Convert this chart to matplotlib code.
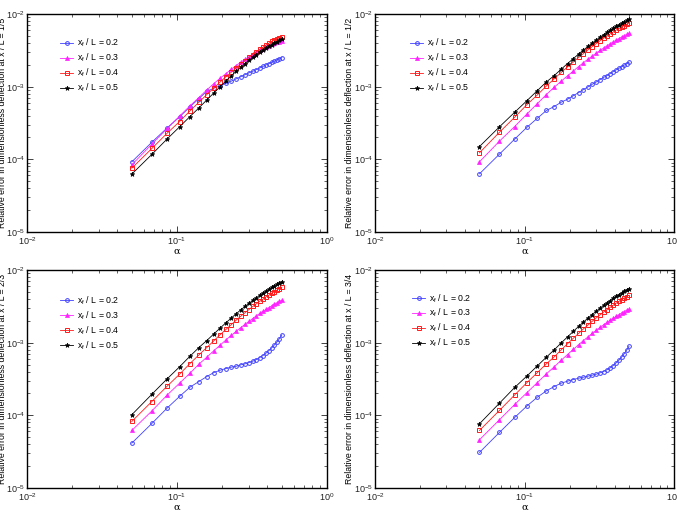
import matplotlib
matplotlib.use("Agg")
import matplotlib.pyplot as plt

plt.rcParams['font.family'] = ['Liberation Sans', 'DejaVu Sans']
plt.rcParams['mathtext.fontset'] = 'custom'
plt.rcParams['mathtext.rm'] = 'Liberation Sans'
plt.rcParams['mathtext.it'] = 'Liberation Sans:italic'
plt.rcParams['axes.unicode_minus'] = False

alpha = [0.05, 0.068, 0.086, 0.104, 0.122, 0.14, 0.158, 0.176, 0.194, 0.212,
         0.23, 0.248, 0.266, 0.284, 0.302, 0.32, 0.338, 0.356, 0.374, 0.392,
         0.41, 0.428, 0.446, 0.464, 0.482, 0.5]

series_labels = ['0.2', '0.3', '0.4', '0.5']
panel_labels = ['1/5', '1/2', '2/3', '3/4']

# Panel x/L = 1/5
p1_02 = [9.25e-5, 1.72e-4, 2.71e-4, 3.84e-4, 5.27e-4, 6.87e-4, 8.65e-4, 9.5e-4, 1.03e-3, 1.11e-3,
         1.19e-3, 1.28e-3, 1.37e-3, 1.46e-3, 1.55e-3, 1.63e-3, 1.72e-3, 1.81e-3, 1.90e-3, 1.99e-3,
         2.07e-3, 2.16e-3, 2.25e-3, 2.34e-3, 2.42e-3, 2.51e-3]
p1_03 = [8.4e-5, 1.62e-4, 2.66e-4, 3.93e-4, 5.45e-4, 7.08e-4, 9.03e-4, 1.10e-3, 1.31e-3, 1.51e-3,
         1.74e-3, 1.95e-3, 2.17e-3, 2.38e-3, 2.59e-3, 2.79e-3, 2.97e-3, 3.17e-3, 3.34e-3, 3.52e-3,
         3.67e-3, 3.83e-3, 3.95e-3, 4.08e-3, 4.17e-3, 4.26e-3]
p1_04 = [7.57e-5, 1.41e-4, 2.29e-4, 3.31e-4, 4.64e-4, 6.11e-4, 7.78e-4, 9.6e-4, 1.16e-3, 1.37e-3,
         1.58e-3, 1.81e-3, 2.05e-3, 2.29e-3, 2.52e-3, 2.77e-3, 3.01e-3, 3.26e-3, 3.50e-3, 3.74e-3,
         3.97e-3, 4.2e-3, 4.4e-3, 4.55e-3, 4.7e-3, 4.85e-3]
p1_05 = [6.27e-5, 1.17e-4, 1.91e-4, 2.80e-4, 3.88e-4, 5.1e-4, 6.57e-4, 8.2e-4, 1.0e-3, 1.2e-3,
         1.41e-3, 1.63e-3, 1.85e-3, 2.08e-3, 2.31e-3, 2.54e-3, 2.76e-3, 2.97e-3, 3.20e-3, 3.41e-3,
         3.6e-3, 3.79e-3, 3.99e-3, 4.17e-3, 4.35e-3, 4.49e-3]

# Panel x/L = 1/2
p2_02 = [6.32e-5, 1.18e-4, 1.90e-4, 2.77e-4, 3.68e-4, 4.70e-4, 5.33e-4, 6.11e-4, 6.72e-4, 7.50e-4,
         8.30e-4, 9.12e-4, 9.93e-4, 1.08e-3, 1.16e-3, 1.25e-3, 1.34e-3, 1.42e-3, 1.51e-3, 1.61e-3,
         1.70e-3, 1.79e-3, 1.88e-3, 1.98e-3, 2.07e-3, 2.17e-3]
p2_03 = [9.25e-5, 1.78e-4, 2.83e-4, 4.23e-4, 5.86e-4, 7.79e-4, 9.82e-4, 1.19e-3, 1.41e-3, 1.64e-3,
         1.89e-3, 2.14e-3, 2.39e-3, 2.64e-3, 2.89e-3, 3.15e-3, 3.40e-3, 3.64e-3, 3.89e-3, 4.13e-3,
         4.36e-3, 4.59e-3, 4.81e-3, 5.02e-3, 5.23e-3, 5.43e-3]
p2_04 = [1.23e-4, 2.36e-4, 3.80e-4, 5.68e-4, 7.71e-4, 1.02e-3, 1.28e-3, 1.57e-3, 1.87e-3, 2.18e-3,
         2.52e-3, 2.86e-3, 3.21e-3, 3.56e-3, 3.92e-3, 4.28e-3, 4.63e-3, 4.98e-3, 5.32e-3, 5.66e-3,
         6.00e-3, 6.32e-3, 6.64e-3, 6.94e-3, 7.25e-3, 7.52e-3]
p2_05 = [1.50e-4, 2.80e-4, 4.45e-4, 6.44e-4, 8.84e-4, 1.16e-3, 1.42e-3, 1.74e-3, 2.08e-3, 2.43e-3,
         2.81e-3, 3.19e-3, 3.58e-3, 3.98e-3, 4.38e-3, 4.79e-3, 5.19e-3, 5.58e-3, 5.97e-3, 6.35e-3,
         6.73e-3, 7.09e-3, 7.46e-3, 7.80e-3, 8.14e-3, 8.45e-3]

# Panel x/L = 2/3
p3_02 = [4.15e-5, 7.73e-5, 1.26e-4, 1.82e-4, 2.44e-4, 2.92e-4, 3.42e-4, 3.88e-4, 4.18e-4, 4.41e-4,
         4.60e-4, 4.74e-4, 4.95e-4, 5.11e-4, 5.33e-4, 5.56e-4, 5.86e-4, 6.24e-4, 6.65e-4, 7.16e-4,
         7.79e-4, 8.48e-4, 9.32e-4, 1.02e-3, 1.14e-3, 1.28e-3]
p3_03 = [6.19e-5, 1.15e-4, 1.90e-4, 2.77e-4, 3.80e-4, 5.06e-4, 6.31e-4, 7.75e-4, 9.26e-4, 1.09e-3,
         1.26e-3, 1.43e-3, 1.61e-3, 1.79e-3, 1.97e-3, 2.15e-3, 2.34e-3, 2.52e-3, 2.70e-3, 2.87e-3,
         3.04e-3, 3.21e-3, 3.38e-3, 3.53e-3, 3.69e-3, 3.83e-3]
p3_04 = [8.24e-5, 1.55e-4, 2.52e-4, 3.68e-4, 5.16e-4, 6.79e-4, 8.57e-4, 1.06e-3, 1.29e-3, 1.52e-3,
         1.77e-3, 2.04e-3, 2.31e-3, 2.58e-3, 2.86e-3, 3.15e-3, 3.42e-3, 3.70e-3, 3.98e-3, 4.26e-3,
         4.52e-3, 4.79e-3, 5.05e-3, 5.30e-3, 5.55e-3, 5.78e-3]
p3_05 = [1.02e-4, 1.95e-4, 3.18e-4, 4.65e-4, 6.51e-4, 8.57e-4, 1.07e-3, 1.32e-3, 1.59e-3, 1.88e-3,
         2.18e-3, 2.50e-3, 2.82e-3, 3.15e-3, 3.48e-3, 3.81e-3, 4.14e-3, 4.48e-3, 4.81e-3, 5.13e-3,
         5.44e-3, 5.76e-3, 6.07e-3, 6.36e-3, 6.65e-3, 6.91e-3]

# Panel x/L = 3/4
p4_02 = [3.09e-5, 5.82e-5, 9.35e-5, 1.35e-4, 1.78e-4, 2.17e-4, 2.49e-4, 2.77e-4, 2.95e-4, 3.11e-4,
         3.24e-4, 3.35e-4, 3.46e-4, 3.57e-4, 3.68e-4, 3.84e-4, 4.01e-4, 4.23e-4, 4.50e-4, 4.84e-4,
         5.27e-4, 5.74e-4, 6.31e-4, 7.01e-4, 7.87e-4, 8.93e-4]
p4_03 = [4.61e-5, 8.69e-5, 1.41e-4, 2.06e-4, 2.83e-4, 3.72e-4, 4.65e-4, 5.73e-4, 6.87e-4, 8.08e-4,
         9.37e-4, 1.07e-3, 1.20e-3, 1.34e-3, 1.48e-3, 1.62e-3, 1.76e-3, 1.90e-3, 2.04e-3, 2.17e-3,
         2.30e-3, 2.43e-3, 2.56e-3, 2.68e-3, 2.80e-3, 2.91e-3]
p4_04 = [6.19e-5, 1.17e-4, 1.91e-4, 2.83e-4, 3.88e-4, 5.11e-4, 6.37e-4, 7.96e-4, 9.66e-4, 1.15e-3,
         1.34e-3, 1.55e-3, 1.75e-3, 1.97e-3, 2.19e-3, 2.41e-3, 2.63e-3, 2.85e-3, 3.06e-3, 3.28e-3,
         3.49e-3, 3.71e-3, 3.91e-3, 4.11e-3, 4.31e-3, 4.49e-3]
p4_05 = [7.65e-5, 1.47e-4, 2.42e-4, 3.49e-4, 4.80e-4, 6.31e-4, 7.96e-4, 9.93e-4, 1.20e-3, 1.43e-3,
         1.67e-3, 1.92e-3, 2.18e-3, 2.44e-3, 2.71e-3, 2.98e-3, 3.26e-3, 3.52e-3, 3.79e-3, 4.06e-3,
         4.32e-3, 4.58e-3, 4.83e-3, 5.07e-3, 5.32e-3, 5.54e-3]

panels = [[p1_02, p1_03, p1_04, p1_05],
          [p2_02, p2_03, p2_04, p2_05],
          [p3_02, p3_03, p3_04, p3_05],
          [p4_02, p4_03, p4_04, p4_05]]

styles = [dict(color='#4040ff', marker='o', mfc='none', ls='-', ms=2.7, mew=0.7),
          dict(color='#ff22ff', marker='^', mfc='#ff22ff', ls='-', ms=2.9, mew=0.5),
          dict(color='#ff1a1a', marker='s', mfc='none', ls='-', ms=2.8, mew=0.7),
          dict(color='#000000', marker='*', mfc='#000000', ls='-', ms=3.4, mew=0.5)]

W, H = 677, 512
fig = plt.figure(figsize=(W / 100, H / 100), dpi=100)

boxes = [(27, 14, 327, 232), (375, 14, 674, 232), (27, 270, 327, 488), (375, 270, 674, 488)]
ylabel_x = [7.5, 354.0, 7.5, 354.0]   # right edge of the rotated label, in pixels
legend_anchor = [(0.11, 0.895), (0.117, 0.895), (0.11, 0.889), (0.124, 0.899)]

for idx, (x0, y0, x1, y1) in enumerate(boxes):
    w, h = x1 - x0, y1 - y0
    ax = fig.add_axes([x0 / W, 1 - y1 / H, w / W, h / H])
    for s, (vals, st) in enumerate(zip(panels[idx], styles)):
        ax.plot(alpha, vals, lw=0.6, label=r'x$_\mathrm{f}$ / L = ' + series_labels[s], **st)
    ax.set_xscale('log')
    ax.set_yscale('log')
    ax.set_xlim(1e-2, 1e0)
    ax.set_ylim(1e-5, 1e-2)
    ax.tick_params(which='both', direction='in', top=True, right=True, labelsize=6.5,
                   colors='#222222')
    ax.tick_params(axis='y', pad=1.3)
    ax.tick_params(axis='x', pad=2.5)
    ax.tick_params(which='major', length=4, width=0.6)
    ax.tick_params(which='minor', length=2, width=0.5)
    for sp in ax.spines.values():
        sp.set_linewidth(1.0)
    ax.set_xlabel('α', fontsize=7, family=['DejaVu Serif'], labelpad=-0.5)
    ax.set_ylabel('Relative error in dimensionless deflection at x / L = ' + panel_labels[idx],
                  fontsize=6.3)
    ax.yaxis.set_label_coords((ylabel_x[idx] - x0) / w, 0.5)
    ax.legend(loc='upper left', bbox_to_anchor=legend_anchor[idx], frameon=False, fontsize=6.3,
              handlelength=1.5, handletextpad=0.45, labelspacing=0.28,
              borderpad=0, borderaxespad=0)

fig.savefig('out.png', dpi=100)
